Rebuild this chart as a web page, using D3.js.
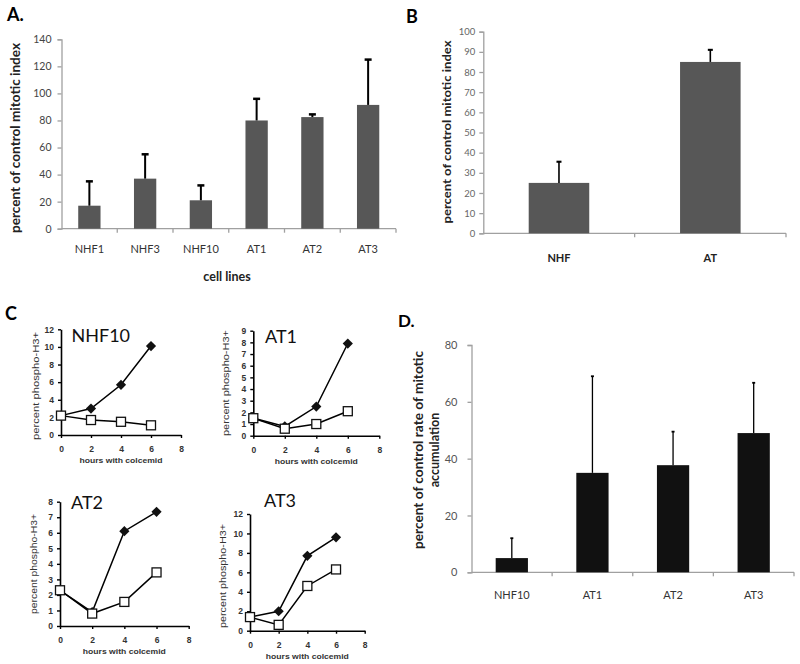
<!DOCTYPE html>
<html><head><meta charset="utf-8">
<script src="https://cdn.jsdelivr.net/npm/d3@7"></script>
<style>body{margin:0;background:#fff}svg{display:block}</style>
</head><body>
<script>
// ---- Data ----
const catsA = ["NHF1","NHF3","NHF10","AT1","AT2","AT3"];
const valsA = [17, 37, 21, 80, 82.5, 91.5];
const errA  = [18, 18, 11, 16, 2, 33.5];
const ticksA = [0,20,40,60,80,100,120,140];

const catsB = ["NHF","AT"];
const valsB = [25, 85];
const errB  = [10.5, 6];
const ticksB = [0,10,20,30,40,50,60,70,80,90,100];

const catsD = ["NHF10","AT1","AT2","AT3"];
const valsD = [5, 35, 37.7, 49];
const errD  = [7, 34, 11.8, 17.7];
const ticksD = [0,20,40,60,80];

const hours = [0,2,4,6];
const hourTicks = [0,2,4,6,8];
const nhf10Filled = [2.2, 3.0, 5.7, 10.1];
const nhf10Open   = [2.2, 1.7, 1.5, 1.1];
const at1Filled = [1.5, 0.8, 2.5, 7.9];
const at1Open   = [1.5, 0.6, 1.0, 2.1];
const at2Filled = [2.3, 0.9, 6.1, 7.35];
const at2Open   = [2.3, 0.8, 1.55, 3.45];
const at3Filled = [1.4, 2.0, 7.7, 9.6];
const at3Open   = [1.4, 0.6, 4.6, 6.3];

const W = 800, H = 664;
const svg = d3.select("body").append("svg").attr("width", W).attr("height", H)
  .style("font-family", "Lato, 'Open Sans', sans-serif");
svg.append("rect").attr("width", W).attr("height", H).attr("fill", "#fff");

function barChart(o) {
  const g = svg.append("g");
  const x = d3.scaleBand().domain(o.cats).range([o.x0, o.x1]).paddingInner(0.6).paddingOuter(0.3);
  const y = d3.scaleLinear().domain([0, o.max]).range([o.y0, o.y1]);
  const ya = g.append("g").attr("transform", `translate(${o.x0},0)`)
    .call(d3.axisLeft(y).tickValues(o.ticks).tickSize(4).tickPadding(o.tickPad || 4));
  ya.select(".domain").attr("stroke", "#a0a0a0").attr("stroke-width", 1.3);
  ya.selectAll(".tick line").attr("stroke", "#a0a0a0").attr("stroke-width", 1.3);
  ya.selectAll(".tick text").attr("fill", o.tickColor).style("font-size", o.tickSize + "px")
    .style("font-family", "Lato, sans-serif");
  g.append("line").attr("x1", o.x0).attr("x2", o.x1).attr("y1", o.y0).attr("y2", o.y0)
    .attr("stroke", "#a0a0a0").attr("stroke-width", 1.3);
  const step = x.step();
  const bounds = d3.range(o.cats.length + 1).map(i => o.x0 + i * step);
  g.selectAll(".bt").data(bounds.slice(1)).join("line")
    .attr("x1", d => d).attr("x2", d => d).attr("y1", o.y0).attr("y2", o.y0 + 4)
    .attr("stroke", "#a0a0a0").attr("stroke-width", 1.3);
  g.selectAll(".bar").data(o.cats).join("rect")
    .attr("x", d => x(d)).attr("width", x.bandwidth())
    .attr("y", (d, i) => y(o.vals[i])).attr("height", (d, i) => o.y0 - y(o.vals[i]))
    .attr("fill", o.color);
  o.cats.forEach((c, i) => {
    const cx = x(c) + x.bandwidth() / 2;
    const top = y(o.vals[i] + o.errs[i]);
    g.append("line").attr("x1", cx).attr("x2", cx).attr("y1", y(o.vals[i])).attr("y2", top)
      .attr("stroke", "#000").attr("stroke-width", o.errW);
    g.append("line").attr("x1", cx - o.cap).attr("x2", cx + o.cap).attr("y1", top).attr("y2", top)
      .attr("stroke", "#000").attr("stroke-width", o.errW + 0.5);
  });
  g.selectAll(".cl").data(o.cats).join("text")
    .attr("x", d => x(d) + x.bandwidth() / 2).attr("y", o.labelY)
    .attr("text-anchor", "middle").attr("fill", o.labelColor)
    .style("font-size", o.labelSize + "px").style("font-weight", o.labelWeight)
    .text(d => d);
  return g;
}

// ---- Panel A ----
barChart({cats: catsA, vals: valsA, errs: errA, ticks: ticksA, max: 140,
  x0: 61.5, x1: 396, y0: 228.7, y1: 39.3, color: "#575757", errW: 2, cap: 3.5,
  tickColor: "#444", tickSize: 10.5, tickPad: 6, labelY: 253, labelColor: "#333", labelSize: 11, labelWeight: 400});
svg.append("text").attr("x", 7).attr("y", 21).text("A.").style("font-size", "18px").style("font-weight", 700);
svg.append("text").attr("x", 227).attr("y", 281).attr("text-anchor", "middle").text("cell lines")
  .style("font-size", "12.5px").style("font-weight", 700).attr("fill", "#222");
svg.append("text").attr("transform", "translate(20,138) rotate(-90)").attr("text-anchor", "middle")
  .text("percent of control mitotic index").style("font-size", "13px").style("font-weight", 700)
  .attr("fill", "#222")
  .attr("textLength", 190).attr("lengthAdjust", "spacingAndGlyphs");

// ---- Panel B ----
barChart({cats: catsB, vals: valsB, errs: errB, ticks: ticksB, max: 100,
  x0: 483.3, x1: 786, y0: 233.3, y1: 31.7, color: "#575757", errW: 1.6, cap: 2.5,
  tickColor: "#666", tickSize: 9.5, labelY: 262, labelColor: "#222", labelSize: 11, labelWeight: 700});
svg.append("text").attr("x", 406).attr("y", 23).text("B").style("font-size", "18px").style("font-weight", 700);
svg.append("text").attr("transform", "translate(451,132) rotate(-90)").attr("text-anchor", "middle")
  .text("percent of control mitotic index").style("font-size", "10.5px").style("font-weight", 700)
  .attr("fill", "#222")
  .attr("textLength", 183).attr("lengthAdjust", "spacingAndGlyphs");

// ---- Panel D ----
barChart({cats: catsD, vals: valsD, errs: errD, ticks: ticksD, max: 80,
  x0: 471.5, x1: 794, y0: 572.3, y1: 345, color: "#111", errW: 1.3, cap: 1.5,
  tickColor: "#555", tickSize: 11, tickPad: 10, labelY: 599, labelColor: "#333", labelSize: 11, labelWeight: 400});
svg.append("text").attr("x", 398).attr("y", 327).text("D.").style("font-size", "17px").style("font-weight", 700);
const dTitle = svg.append("text").attr("transform", "translate(0,450) rotate(-90)").attr("text-anchor", "middle")
  .style("font-size", "12.5px").style("font-weight", 700).attr("fill", "#222");
dTitle.append("tspan").attr("x", 0).attr("y", 423).text("percent of control rate of mitotic")
  .attr("textLength", 198).attr("lengthAdjust", "spacingAndGlyphs");
dTitle.append("tspan").attr("x", 0).attr("y", 439).text("accumulation");

// ---- Panel C ----
svg.append("text").attr("x", 5).attr("y", 320).text("C").style("font-size", "18px").style("font-weight", 700);

function lineChart(o) {
  const g = svg.append("g");
  const x = d3.scaleLinear().domain([0, 8]).range([o.x0, o.x1]);
  const y = d3.scaleLinear().domain([0, o.max]).range([o.y0, o.y1]);
  const ya = g.append("g").attr("transform", `translate(${o.x0},0)`)
    .call(d3.axisLeft(y).tickValues(o.ticks).tickSize(3).tickPadding(4).tickSizeOuter(0));
  const xa = g.append("g").attr("transform", `translate(0,${o.y0})`)
    .call(d3.axisBottom(x).tickValues(hourTicks).tickSize(3).tickPadding(8).tickSizeOuter(0));
  [ya, xa].forEach(a => {
    a.select(".domain").attr("stroke", "#000").attr("stroke-width", 1.6);
    a.selectAll(".tick line").attr("stroke", "#000").attr("stroke-width", 1.4);
    a.selectAll(".tick text").attr("fill", "#333").style("font-size", "8.5px").style("font-weight", 700)
      .style("font-family", "'Liberation Sans', Arial, sans-serif");
  });
  const line = d3.line().x((d, i) => x(hours[i])).y(d => y(d));
  g.append("path").datum(o.open).attr("d", line).attr("fill", "none").attr("stroke", "#000").attr("stroke-width", 1.5);
  g.append("path").datum(o.filled).attr("d", line).attr("fill", "none").attr("stroke", "#000").attr("stroke-width", 1.5);
  g.selectAll(".fd").data(o.filled).join("path")
    .attr("transform", (d, i) => `translate(${x(hours[i])},${y(d)}) rotate(45)`)
    .attr("d", d3.symbol().type(d3.symbolSquare).size(52)).attr("fill", "#111");
  g.selectAll(".os").data(o.open).join("rect")
    .attr("x", (d, i) => x(hours[i]) - 4.5).attr("y", d => y(d) - 4.5)
    .attr("width", 9).attr("height", 9).attr("fill", "#fff").attr("stroke", "#111").attr("stroke-width", 1.3);
  g.append("text").attr("x", o.tx).attr("y", o.ty).text(o.title)
    .style("font-size", "18px").attr("fill", "#111");
  g.append("text").attr("x", (o.x0 + o.x1) / 2).attr("y", o.y0 + 28).attr("text-anchor", "middle")
    .text("hours with colcemid").style("font-family", "'Liberation Sans', Arial, sans-serif")
    .style("font-size", "8px").style("font-weight", 700).attr("fill", "#333")
    .attr("textLength", 83).attr("lengthAdjust", "spacingAndGlyphs");
  g.append("text").attr("transform", `translate(${o.yt + 3.5},${o.yc}) rotate(-90)`)
    .attr("text-anchor", "middle").text("percent phospho-H3+")
    .style("font-family", "'Liberation Sans', Arial, sans-serif")
    .style("font-size", "9.5px").attr("fill", "#333")
    .attr("textLength", o.yl).attr("lengthAdjust", "spacingAndGlyphs");
}

lineChart({title: "NHF10", filled: nhf10Filled, open: nhf10Open, max: 12, ticks: [0,2,4,6,8,10,12],
  x0: 61, x1: 181, y0: 435, y1: 329.3, tx: 71.5, ty: 342, yt: 35, yc: 386, yl: 108});
lineChart({title: "AT1", filled: at1Filled, open: at1Open, max: 9, ticks: d3.range(0, 10),
  x0: 253.3, x1: 379.3, y0: 435.7, y1: 330.7, tx: 265, ty: 343, yt: 225, yc: 383, yl: 106});
lineChart({title: "AT2", filled: at2Filled, open: at2Open, max: 8, ticks: d3.range(0, 9),
  x0: 60, x1: 188.7, y0: 626, y1: 501.7, tx: 71, ty: 509, yt: 33, yc: 564, yl: 100});
lineChart({title: "AT3", filled: at3Filled, open: at3Open, max: 12, ticks: [0,2,4,6,8,10,12],
  x0: 250, x1: 364.7, y0: 630.7, y1: 514, tx: 264, ty: 507, yt: 222, yc: 576, yl: 104});
</script>
</body></html>
